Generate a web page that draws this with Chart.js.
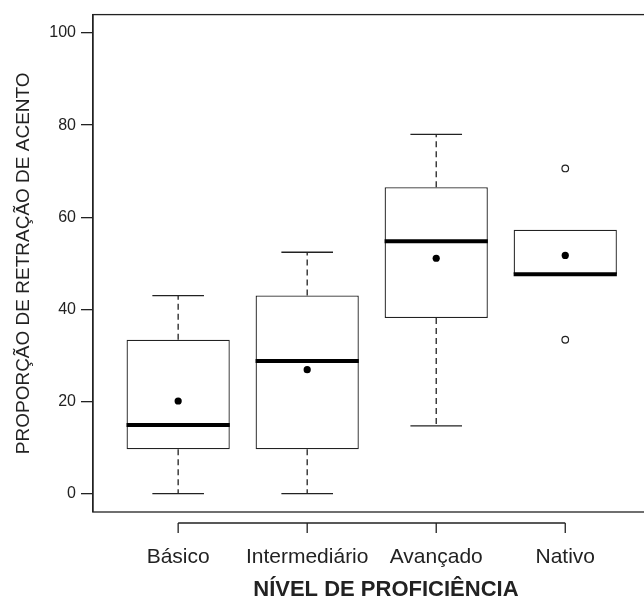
<!DOCTYPE html>
<html>
<head>
<meta charset="utf-8">
<script src="https://cdn.jsdelivr.net/npm/chart.js@4/dist/chart.umd.min.js"></script>
<style>
html, body { margin: 0; padding: 0; overflow: hidden; background: #fff; width: 644px; height: 603px; }
#wrap { width: 684px; height: 603px; position: relative; }
</style>
</head>
<body>
<div id="wrap"><canvas id="c"></canvas></div>
<script>
const categories = ['Básico', 'Intermediário', 'Avançado', 'Nativo'];
const whiskerLow = [0, 0, 14.7, 47.6];
const q1 = [9.6, 9.6, 38.1, 47.6];
const medians = [14.9, 28.8, 54.8, 47.6];
const q3 = [33.4, 43.0, 66.5, 57.3];
const whiskerHigh = [43.0, 52.4, 78.0, 57.3];
const means = [20.1, 26.9, 51.1, 51.7];
const outlierGroups = [4, 4];
const outlierValues = [70.6, 33.4];
const yTicks = [0, 20, 40, 60, 80, 100];

const INK = '#222';
const FONT = "'Liberation Sans', Arial, sans-serif";

const boxPlugin = {
  id: 'rbox',
  afterDatasetsDraw(chart) {
    const {ctx, chartArea, scales} = chart;
    const x = scales.x, y = scales.y;
    ctx.save();
    ctx.strokeStyle = INK;
    ctx.lineCap = 'butt';
    // plot frame
    ctx.lineWidth = 1.3;
    ctx.strokeRect(chartArea.left, chartArea.top, chartArea.right - chartArea.left, chartArea.bottom - chartArea.top);
    // x axis (detached, R style)
    const ay = chartArea.bottom + 11;
    ctx.beginPath();
    ctx.moveTo(x.getPixelForValue(1), ay);
    ctx.lineTo(x.getPixelForValue(categories.length), ay);
    categories.forEach((c, i) => {
      const px = x.getPixelForValue(i + 1);
      ctx.moveTo(px, ay);
      ctx.lineTo(px, ay + 10);
    });
    ctx.stroke();
    // whiskers, staples, medians
    categories.forEach((c, i) => {
      const cx = x.getPixelForValue(i + 1);
      const half = x.getPixelForValue(i + 1.4) - cx;
      const sh = half / 2;
      ctx.lineWidth = 1.3;
      ctx.strokeStyle = INK;
      const yq3 = y.getPixelForValue(q3[i]);
      const yq1 = y.getPixelForValue(q1[i]);
      const yh = y.getPixelForValue(whiskerHigh[i]);
      const yl = y.getPixelForValue(whiskerLow[i]);
      if (whiskerHigh[i] > q3[i]) {
        ctx.setLineDash([6, 4]);
        ctx.beginPath();
        ctx.moveTo(cx, yq3); ctx.lineTo(cx, yh);
        ctx.stroke();
        ctx.setLineDash([]);
        ctx.beginPath();
        ctx.moveTo(cx - sh, yh); ctx.lineTo(cx + sh, yh);
        ctx.stroke();
      }
      if (whiskerLow[i] < q1[i]) {
        ctx.setLineDash([6, 4]);
        ctx.beginPath();
        ctx.moveTo(cx, yq1); ctx.lineTo(cx, yl);
        ctx.stroke();
        ctx.setLineDash([]);
        ctx.beginPath();
        ctx.moveTo(cx - sh, yl); ctx.lineTo(cx + sh, yl);
        ctx.stroke();
      }
      ctx.setLineDash([]);
      ctx.lineWidth = 4;
      ctx.strokeStyle = '#000';
      ctx.beginPath();
      const ym = y.getPixelForValue(medians[i]);
      ctx.moveTo(cx - half, ym); ctx.lineTo(cx + half, ym);
      ctx.stroke();
    });
    ctx.restore();
  }
};

new Chart(document.getElementById('c'), {
  type: 'bar',
  data: {
    datasets: [
      {
        type: 'bar',
        data: categories.map((c, i) => ({x: i + 1, y: [q1[i], q3[i]]})),
        backgroundColor: '#fff',
        borderColor: INK,
        borderWidth: 1.3,
        borderSkipped: false,
        categoryPercentage: 0.8,
        barPercentage: 1.0,
        order: 2
      },
      {
        type: 'scatter',
        data: categories.map((c, i) => ({x: i + 1, y: means[i]})),
        pointStyle: 'circle',
        pointRadius: 3.6,
        pointBackgroundColor: '#000',
        pointBorderColor: '#000',
        pointBorderWidth: 0,
        order: 1
      },
      {
        type: 'scatter',
        data: outlierGroups.map((g, i) => ({x: g, y: outlierValues[i]})),
        pointStyle: 'circle',
        pointRadius: 3.3,
        pointBackgroundColor: '#fff',
        pointBorderColor: INK,
        pointBorderWidth: 1.2,
        order: 1
      }
    ]
  },
  options: {
    responsive: true,
    maintainAspectRatio: false,
    animation: false,
    devicePixelRatio: 1,
    layout: { padding: { top: 12, left: 0, right: 1, bottom: 0 } },
    plugins: { legend: { display: false }, tooltip: { enabled: false } },
    scales: {
      x: {
        type: 'linear',
        position: 'bottom',
        offset: false,
        min: 0.34,
        max: 4.88,
        afterBuildTicks: (s) => { s.ticks = categories.map((c, i) => ({value: i + 1})); },
        afterFit: (s) => { s.height = 91; },
        grid: { display: false, drawTicks: false },
        border: { display: false },
        ticks: {
          autoSkip: false,
          maxRotation: 0,
          padding: 33,
          color: INK,
          font: { family: FONT, size: 21 },
          callback: (v) => categories[Math.round(v) - 1]
        },
        title: {
          display: true,
          text: 'NÍVEL DE PROFICIÊNCIA',
          color: INK,
          font: { family: FONT, size: 22, weight: 'bold' },
          padding: { top: 0, bottom: 0 }
        }
      },
      y: {
        type: 'linear',
        position: 'left',
        min: -4,
        max: 104,
        afterBuildTicks: (s) => { s.ticks = yTicks.map(v => ({value: v})); },
        afterFit: (s) => { s.width = 93; },
        grid: { display: true, drawOnChartArea: false, drawTicks: true, tickLength: 12, color: INK, lineWidth: 1.3 },
        border: { display: true, color: INK, width: 1.3 },
        ticks: {
          padding: 5,
          color: INK,
          font: { family: FONT, size: 16 }
        },
        title: {
          display: true,
          text: 'PROPORÇÃO DE RETRAÇÃO DE ACENTO',
          color: INK,
          font: { family: FONT, size: 19 },
          padding: { top: 12, bottom: 0 }
        }
      }
    }
  },
  plugins: [boxPlugin]
});
</script>
</body>
</html>
